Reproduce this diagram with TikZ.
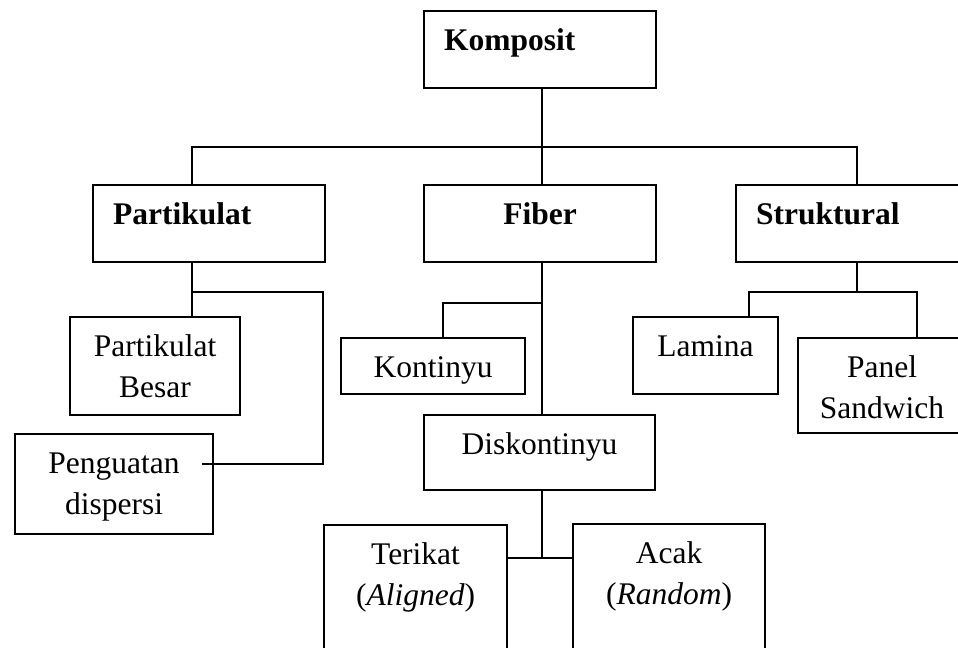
\documentclass[tikz,border=0pt]{standalone}
\usepackage{fontspec}
\setmainfont{Liberation Serif}
\usetikzlibrary{positioning}

\begin{document}
\begin{tikzpicture}[
    x=0.381pt, y=-0.381pt, line width=0.8pt,
    box/.style={draw, anchor=north west, inner xsep=0pt, inner ysep=0pt, align=center, text height=15pt, font=\fontsize{12}{15.6}\selectfont},
    head/.style={box, font=\fontsize{12}{15.6}\selectfont\bfseries, inner xsep=7.62pt, text width=73.15pt, text depth=14.33pt, align=left}
]
\useasboundingbox (0,0) rectangle (958,648);
\clip (0,0) rectangle (958,648);

\node[head] (kom) at (423,10) {Komposit};
\node[head] (par) at (92,184) {Partikulat};
\node[head, align=center] (fib) at (423,184) {Fiber};
\node[head] (str) at (735,184) {Struktural};

\node[box, text width=64.77pt, text depth=22.33pt] (pbe) at (69,316) {Partikulat\\Besar};
\node[box, text width=75.44pt, text depth=23.09pt] (pdi) at (14,433) {Penguatan\\dispersi};
\node[box, text width=70.10pt, text depth=6.33pt] (kon) at (340,337) {Kontinyu};
\node[box, text width=88.01pt, text depth=13.56pt] (dis) at (423,414) {Diskontinyu};
\node[box, text width=69.72pt, text depth=38.33pt] (ter) at (323,524) {Terikat\\(\textit{Aligned})};
\node[box, text width=73.15pt, text depth=38.33pt] (aca) at (572,523) {Acak\\(\textit{Random})};
\node[box, text width=55.25pt, text depth=14.33pt] (lam) at (632,316) {Lamina};
\node[box, text width=64.01pt, text depth=21.18pt] (pan) at (797,337) {Panel\\Sandwich};

\coordinate (jk) at (542,147);
\coordinate (jp) at (192,292);
\coordinate (jq) at (323,292);
\coordinate (pd) at (202,464);
\coordinate (jf) at (542,303);
\coordinate (jn) at (443,303);
\coordinate (jd) at (542,558);
\coordinate (js) at (857,292);
\coordinate (jl) at (749,292);
\coordinate (jr) at (917,292);

\draw (kom.south -| jk) -- (jk);
\draw (par.north -| jp) |- (jk) -| (str.north -| js);
\draw (jk) -- (fib.north -| jk);

\draw (par.south -| jp) -- (jp) -- (pbe.north -| jp);
\draw (jp) -- (jq) |- (pd);

\draw (fib.south -| jf) -- (dis.north -| jf);
\draw (jf) -- (jn) -- (kon.north -| jn);
\draw (dis.south -| jd) -- (jd);
\draw (ter.east |- jd) -- (aca.west |- jd);

\draw (str.south -| js) -- (js);
\draw (lam.north -| jl) |- (jr) -- (pan.north -| jr);
\end{tikzpicture}
\end{document}
